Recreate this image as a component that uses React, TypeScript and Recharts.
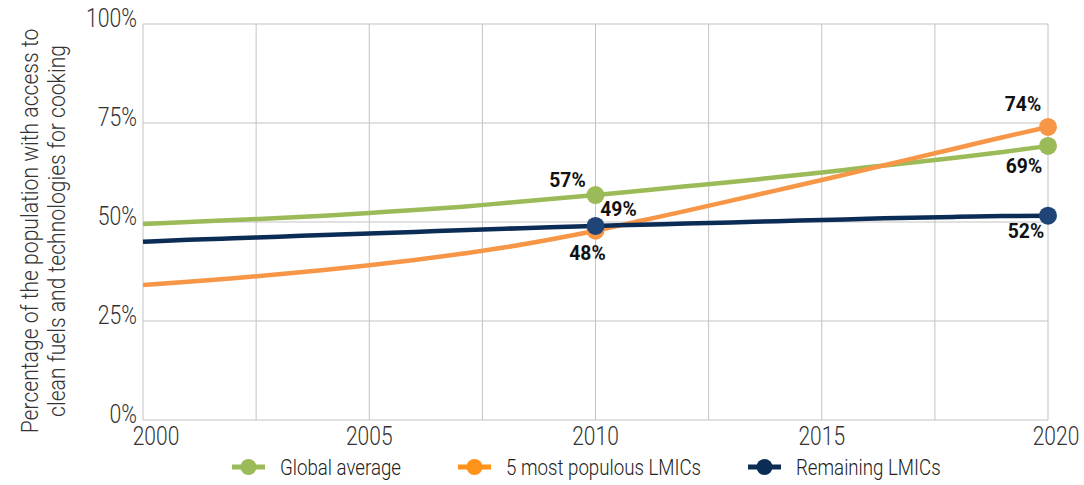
import { CartesianGrid, LabelList, Legend, Line, LineChart, XAxis, YAxis } from "recharts";

// Share of population with clean cooking access (%)
const years = [
  2000, 2001, 2002, 2003, 2004, 2005, 2006, 2007, 2008, 2009, 2010,
  2011, 2012, 2013, 2014, 2015, 2016, 2017, 2018, 2019, 2020,
];
const globalAverage = [
  49.5, 50.0, 50.5, 51.0, 51.6, 52.3, 53.0, 53.8, 54.8, 55.8, 56.8,
  57.9, 59.0, 60.1, 61.3, 62.5, 63.8, 65.0, 66.3, 67.7, 69.2,
];
const populousLmics = [
  34.1, 34.9, 35.8, 36.8, 37.9, 39.1, 40.4, 41.9, 43.6, 45.6, 47.8,
  50.3, 52.8, 55.4, 58.0, 60.6, 63.3, 66.0, 68.7, 71.4, 74.0,
];
const remainingLmics = [
  45.0, 45.5, 45.9, 46.3, 46.7, 47.1, 47.5, 47.9, 48.3, 48.7, 49.0,
  49.3, 49.6, 49.9, 50.2, 50.5, 50.8, 51.1, 51.3, 51.5, 51.6,
];
const markedYears = [2010, 2020];
const xTicks = [2000, 2002.5, 2005, 2007.5, 2010, 2012.5, 2015, 2017.5, 2020];
const yTicks = [0, 25, 50, 75, 100];
const labelledValues: Record<string, number[]> = {
  global: [57, 69],
  populous: [48, 74],
  remaining: [49, 52],
};

const data = years.map((year, i) => ({
  year,
  global: globalAverage[i],
  populous: populousLmics[i],
  remaining: remainingLmics[i],
}));

const series = [
  { key: "global", name: "Global average", color: "#9BBB59", dot: "#9BBB59", legend: "#9BBB59",
    offsets: [[-28, -8], [-24, 27]], legendX: 232 },
  { key: "populous", name: "5 most populous LMICs", color: "#F79646", dot: "#F79646", legend: "#FF9218",
    offsets: [[-8, 29], [-25, -16]], legendX: 458 },
  { key: "remaining", name: "Remaining LMICs", color: "#0B2D55", dot: "#1F4478", legend: "#0B2D55",
    offsets: [[23, -10], [-22, 22]], legendX: 748 },
];

const font = "Roboto, sans-serif";

// narrow text, to get near the condensed face of the original
function NText({ x, y, size, weight = 300, sx = 0.85, anchor = "middle", fill = "#333", children }: any) {
  return (
    <text
      transform={`translate(${x},${y}) scale(${sx},1)`}
      textAnchor={anchor}
      fontFamily={font}
      fontWeight={weight}
      fontSize={size}
      fill={fill}
    >
      {children}
    </text>
  );
}

function makeDot(fill: string) {
  return (props: any) => {
    const { cx, cy, payload, index } = props;
    if (!markedYears.includes(payload.year)) return <g key={index} />;
    return <circle key={index} cx={cx} cy={cy} r={9} fill={fill} />;
  };
}

function makeLabel(key: string, offsets: number[][]) {
  return (props: any) => {
    const { x, y, index } = props;
    const k = markedYears.indexOf(years[index]);
    if (k < 0) return null;
    return (
      <NText x={x + offsets[k][0]} y={y + offsets[k][1]} size={21} weight={700} sx={0.92} fill="#111">
        {labelledValues[key][k]}%
      </NText>
    );
  };
}

function XTick(props: any) {
  const { x, y, payload } = props;
  if (payload.value % 5 !== 0) return null;
  const dx = payload.value === 2000 ? 13 : payload.value === 2020 ? 8 : 0;
  return (
    <NText x={x + dx} y={y + 17} size={25} sx={0.84}>
      {payload.value}
    </NText>
  );
}

function YTick(props: any) {
  const { x, y, payload } = props;
  return (
    <NText x={x + 2} y={y + 3} size={25} sx={0.85} anchor="end">
      {payload.value}%
    </NText>
  );
}

function LegendContent() {
  return (
    <svg width={1084} height={31} style={{ display: "block" }}>
      {series.map((s) => (
        <g key={s.key}>
          <line x1={s.legendX} y1={17} x2={s.legendX + 33} y2={17} stroke={s.legend} strokeWidth={5} />
          <circle cx={s.legendX + 16.5} cy={17} r={8} fill={s.legend} />
          <NText x={s.legendX + 48} y={25} size={22} sx={0.85} anchor="start" fill="#222">
            {s.name}
          </NText>
        </g>
      ))}
    </svg>
  );
}

export default function App() {
  return (
    <div style={{ position: "absolute", left: 0, top: 0 }}>
      <LineChart width={1084} height={485} data={data} margin={{ top: 24, right: 36, left: 0, bottom: 4 }}>
        <CartesianGrid stroke="#c3c3c3" strokeWidth={1} />
        <XAxis
          dataKey="year"
          type="number"
          domain={[2000, 2020]}
          ticks={xTicks}
          interval={0}
          axisLine={false}
          tickLine={false}
          tick={<XTick />}
          height={30}
        />
        <YAxis
          domain={[0, 100]}
          ticks={yTicks}
          axisLine={false}
          tickLine={false}
          tick={<YTick />}
          width={143}
          label={{
            content: () => (
              <text
                transform="translate(0,231) rotate(-90) scale(0.88,1)"
                textAnchor="middle"
                fontFamily={font}
                fontWeight={300}
                fontSize={24}
                fill="#333"
              >
                <tspan x={0} y={38}>Percentage of the population with access to</tspan>
                <tspan x={0} y={65}>clean fuels and technologies for cooking</tspan>
              </text>
            ),
          }}
        />
        <Legend verticalAlign="bottom" height={31} content={<LegendContent />} />
        {series.map((s) => (
          <Line
            key={s.key}
            dataKey={s.key}
            name={s.name}
            type="monotone"
            stroke={s.color}
            strokeWidth={4.5}
            dot={makeDot(s.dot)}
            activeDot={false}
            isAnimationActive={false}
          >
            <LabelList dataKey={s.key} content={makeLabel(s.key, s.offsets)} />
          </Line>
        ))}
      </LineChart>
    </div>
  );
}
